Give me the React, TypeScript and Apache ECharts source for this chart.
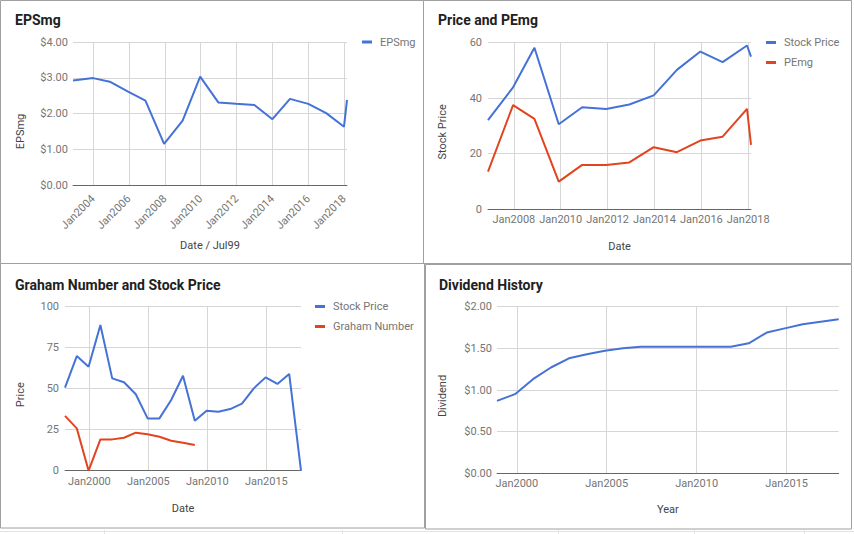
import React, { useEffect, useRef } from "react";
import * as echarts from "echarts";

// ---------- DATA ----------
const epsDates = [
  "2002-11-17", "2003-12-31", "2004-12-05", "2005-12-13", "2006-12-01", "2007-12-16",
  "2008-12-28", "2009-12-20", "2010-12-24", "2011-12-20", "2012-12-28", "2013-12-31",
  "2014-12-24", "2015-12-31", "2016-12-31", "2017-12-28", "2018-02-28",
];
const epsValues = [2.92, 2.99, 2.89, 2.61, 2.36, 1.15, 1.8, 3.03, 2.31, 2.27, 2.24, 1.84, 2.41, 2.27, 2.01, 1.63, 2.38];
const epsTickYears = [2004, 2006, 2008, 2010, 2012, 2014, 2016, 2018];

const pePriceDates = [
  "2006-11-25", "2007-12-20", "2008-11-18", "2009-12-01", "2010-12-01", "2011-12-10",
  "2012-12-05", "2013-12-20", "2014-12-16", "2015-12-16", "2016-11-28", "2017-12-13", "2018-02-14",
];
const pePriceStock = [32.1, 43.9, 58.2, 30.6, 36.7, 36.1, 37.7, 41.0, 50.2, 56.8, 53.0, 59.0, 55.0];
const pePriceRatio = [13.5, 37.5, 32.5, 9.9, 15.9, 15.9, 16.8, 22.3, 20.5, 24.7, 26.1, 36.1, 23.1];
const peTickYears = [2008, 2010, 2012, 2014, 2016, 2018];

const grahamStockDates = [
  "1997-12-08", "1998-12-08", "1999-12-08", "2000-12-08", "2001-12-08", "2002-12-08", "2003-12-08",
  "2004-12-08", "2005-12-08", "2006-12-08", "2007-12-08", "2008-12-08", "2009-12-08", "2010-12-08",
  "2011-12-08", "2012-12-08", "2013-12-08", "2014-12-08", "2015-12-08", "2016-12-08", "2017-12-08",
];
const grahamStockValues = [50.6, 69.9, 63.4, 88.8, 56.3, 53.9, 46.6, 31.9, 31.9, 43.1, 57.9, 30.5, 36.6, 36.0, 37.6, 40.9, 50.2, 56.9, 52.9, 59.0, 0];
const grahamNumberDates = [
  "1997-12-08", "1998-12-08", "1999-12-08", "2000-12-08", "2001-12-08", "2002-12-08",
  "2003-12-08", "2004-12-08", "2005-12-08", "2006-12-08", "2007-12-08", "2008-12-08",
];
const grahamNumberValues = [33.4, 25.8, 0, 19.1, 19.1, 20.1, 23.2, 22.2, 20.7, 18.3, 17.1, 15.7];
const fiveYearTicks = [2000, 2005, 2010, 2015];

const dividendDates = [
  "1998-11-25", "1999-11-25", "2000-11-25", "2001-11-25", "2002-11-25", "2003-11-25", "2004-11-25",
  "2005-11-25", "2006-11-25", "2007-11-25", "2008-11-25", "2009-11-25", "2010-11-25", "2011-11-25",
  "2012-11-25", "2013-11-25", "2014-11-25", "2015-11-25", "2016-11-25", "2017-11-25",
];
const dividendValues = [0.87, 0.95, 1.13, 1.27, 1.38, 1.43, 1.47, 1.5, 1.52, 1.52, 1.52, 1.52, 1.52, 1.52, 1.56, 1.69, 1.74, 1.79, 1.82, 1.85];

// ---------- HELPERS ----------
const toYear = (d: string) => {
  const [y, m, dd] = d.split("-").map(Number);
  return y + (m - 1) / 12 + (dd - 1) / 365;
};
const pairs = (dates: string[], vals: number[]) => dates.map((d, i) => [toYear(d), vals[i]]);

const BLUE = "#4472d6";
const RED = "#e2441f";
const FONT = "Roboto";
const TICK = "#757575";
const NAME = "#444444";
const GRID = "#d6d6d6";
const BASE = "#666666";

const xAxis = (gi: number, dates: string[], ticks: number[], name: string, nameGap: number, rotate = 0) => ({
  type: "value",
  gridIndex: gi,
  min: toYear(dates[0]),
  max: toYear(dates[dates.length - 1]),
  axisLine: { show: true, onZero: false, lineStyle: { color: BASE, width: 1 } },
  axisTick: { show: false, customValues: ticks },
  axisLabel: {
    customValues: ticks,
    formatter: (v: number) => "Jan" + Math.round(v),
    rotate,
    margin: rotate ? 12 : 5,
    color: TICK,
    fontSize: 11,
    fontFamily: FONT,
  },
  splitLine: { show: true, lineStyle: { color: GRID, width: 1 } },
  name,
  nameLocation: "middle",
  nameGap,
  nameTextStyle: { color: NAME, fontSize: 11, fontFamily: FONT },
});

const yAxis = (
  gi: number,
  max: number,
  interval: number,
  money: boolean,
  name: string,
  nameGap: number,
  shift: number,
  margin: number
) => ({
  type: "value",
  gridIndex: gi,
  min: 0,
  max,
  interval,
  axisLine: { show: false },
  axisTick: { show: false },
  axisLabel: {
    formatter: (v: number) => (money ? "$" + v.toFixed(2) : String(v)),
    margin,
    color: TICK,
    fontSize: 11,
    fontFamily: FONT,
  },
  splitLine: { show: true, lineStyle: { color: GRID, width: 1 } },
  name,
  nameLocation: "middle",
  nameGap,
  nameTextStyle: { color: NAME, fontSize: 11, fontFamily: FONT, padding: [0, shift * 2, 0, 0] },
});

const line = (name: string, color: string, xi: number, data: number[][]) => ({
  type: "line",
  name,
  xAxisIndex: xi,
  yAxisIndex: xi,
  data,
  showSymbol: false,
  symbol: "none",
  color,
  lineStyle: { color, width: 2 },
});

const legend = (left: number, top: number, data: string[]) => ({
  left,
  top,
  orient: "vertical",
  padding: 0,
  icon: "rect",
  itemWidth: 10,
  itemHeight: 3,
  itemGap: 6,
  data,
  textStyle: { color: TICK, fontSize: 11, fontFamily: FONT, lineHeight: 14, padding: [0, 0, 0, 3] },
});

const title = (text: string, left: number, top: number) => ({
  text,
  left,
  top,
  padding: 0,
  textStyle: { color: "#212121", fontSize: 14, fontWeight: "bold", fontFamily: FONT },
});

const panelRect = (x: number, y: number, w: number, h: number) => ({
  type: "rect",
  shape: { x, y, width: w, height: h },
  style: { fill: "none", stroke: "#a0a0a0", lineWidth: 1 },
  silent: true,
});

const lightTick = (x: number) => ({
  type: "line",
  shape: { x1: x, y1: 530, x2: x, y2: 534 },
  style: { stroke: "#e2e2e2", lineWidth: 1 },
  silent: true,
});

export default function App() {
  const ref = useRef<HTMLDivElement>(null);
  useEffect(() => {
    if (!ref.current) return;
    const chart = echarts.init(ref.current, null, { renderer: "svg" });
    chart.setOption({
      animation: false,
      backgroundColor: "#ffffff",
      title: [
        title("EPSmg", 15, 13),
        title("Price and PEmg", 438, 13),
        title("Graham Number and Stock Price", 15, 278),
        title("Dividend History", 439, 278),
      ],
      legend: [
        legend(362, 35, ["EPSmg"]),
        legend(766, 35.5, ["Stock Price", "PEmg"]),
        legend(315, 299.5, ["Stock Price", "Graham Number"]),
      ],
      grid: [
        { left: 73, top: 42, width: 274, height: 143, outerBoundsMode: "none", containLabel: false },
        { left: 488, top: 42.7, width: 263, height: 166.3, outerBoundsMode: "none", containLabel: false },
        { left: 65, top: 306.7, width: 236, height: 164, outerBoundsMode: "none", containLabel: false },
        { left: 497, top: 306.7, width: 341.7, height: 166.6, outerBoundsMode: "none", containLabel: false },
      ],
      xAxis: [
        xAxis(0, epsDates, epsTickYears, "Date / Jul99", 54.5, 45),
        xAxis(1, pePriceDates, peTickYears, "Date", 31.5),
        xAxis(2, grahamStockDates, fiveYearTicks, "Date", 31.8),
        xAxis(3, dividendDates, fiveYearTicks, "Year", 31),
      ],
      yAxis: [
        yAxis(0, 4, 1, true, "EPSmg", 47, 18, 5),
        yAxis(1, 60, 20, false, "Stock Price", 40, 6, 6),
        yAxis(2, 100, 25, false, "Price", 39, 6, 6),
        yAxis(3, 2, 0.5, true, "Dividend", 49, 6, 5),
      ],
      series: [
        line("EPSmg", BLUE, 0, pairs(epsDates, epsValues)),
        line("Stock Price", BLUE, 1, pairs(pePriceDates, pePriceStock)),
        line("PEmg", RED, 1, pairs(pePriceDates, pePriceRatio)),
        line("Stock Price", BLUE, 2, pairs(grahamStockDates, grahamStockValues)),
        line("Graham Number", RED, 2, pairs(grahamNumberDates, grahamNumberValues)),
        line("Dividend", BLUE, 3, pairs(dividendDates, dividendValues)),
      ],
      graphic: [
        {
          type: "line",
          shape: { x1: 0, y1: 531.5, x2: 854, y2: 531.5 },
          style: { stroke: "#e2e2e2", lineWidth: 1 },
          silent: true,
        },
        lightTick(104.5),
        lightTick(342.5),
        lightTick(558.5),
        lightTick(694.5),
        lightTick(804.5),
        panelRect(0.5, 0.5, 423, 263),
        panelRect(423.5, 0.5, 428, 263),
        panelRect(0.5, 263.5, 424, 264.5),
        panelRect(425.5, 264.5, 426, 264.5),
      ],
    });
    return () => chart.dispose();
  }, []);
  return (
    <div
      ref={ref}
      style={{ position: "absolute", left: 0, top: 0, width: 854, height: 534, background: "#fff" }}
    />
  );
}
